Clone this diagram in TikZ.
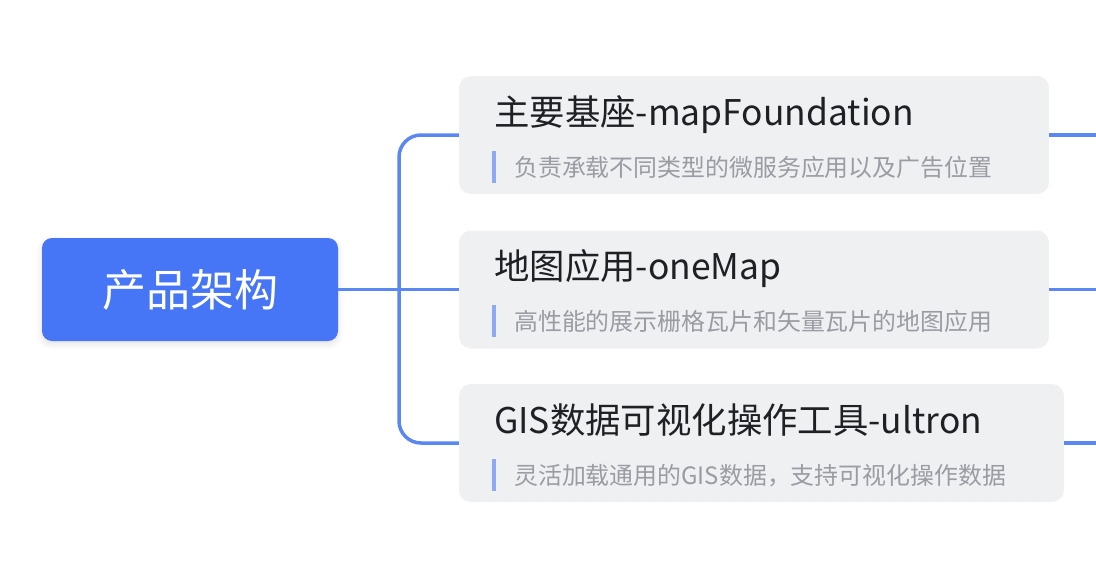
\documentclass[tikz,border=0pt]{standalone}
\usepackage{fontspec}
\setmainfont{Noto Sans CJK SC}
\usetikzlibrary{calc,shadows.blur}

\definecolor{rootblue}{HTML}{4676F6}
\definecolor{linkblue}{HTML}{5B87F2}
\definecolor{barblue}{HTML}{8EA8F3}
\definecolor{boxgray}{HTML}{EFF0F2}
\definecolor{titleink}{HTML}{1F2023}
\definecolor{noteink}{HTML}{9A9CA3}

\begin{document}
\begin{tikzpicture}[x=1pt,y=-1pt]

\useasboundingbox (0,0) rectangle (1096,574);

% Root
\tikzstyle{root}=[rounded corners=10pt,fill=rootblue,text=white,inner sep=0pt,
  minimum width=296pt,minimum height=103pt,font=\fontsize{44}{50}\selectfont,
  blur shadow={shadow xshift=0pt,shadow yshift=-3pt,shadow blur radius=6pt,shadow opacity=12}]

% Topic
\tikzstyle{topic}=[rounded corners=12pt,fill=boxgray,inner sep=0pt,minimum height=118pt]
\tikzstyle{title}=[anchor=base west,inner sep=0pt,text=titleink,font=\fontsize{35.4}{40}\selectfont]
\tikzstyle{note}=[anchor=base west,inner sep=0pt,text=noteink,font=\fontsize{23.9}{28}\selectfont]
\tikzstyle{notebar}=[line width=3.5pt,barblue]

% Links
\tikzstyle{link}=[line width=3.5pt,linkblue]

%%%%%%%%%%%%%%%%%%%%%%%%%%%%%%%%%%%%%%%%%%%%%%%%%%%%%%%%%%%%%%%%%%
%
%       Layout
%
\node (root) [root] at (190,289.5) {产品架构};

\node (map)   [topic, minimum width=590pt] at (754,135)   {};
\node (one)   [topic, minimum width=590pt] at (754,289.5) {};
\node (gis)   [topic, minimum width=605pt] at (761.5,443) {};

%%%%%%%%%%%%%%%%%%%%%%%%%%%%%%%%%%%%%%%%%%%%%%%%%%%%%%%%%%%%%%%%%%
%
%       Texts
%
\node (mapT) [title] at (494,125) {主要基座-mapFoundation};
\node (mapN) [note]  at (514,176) {负责承载不同类型的微服务应用以及广告位置};
\node (oneT) [title] at (494,279) {地图应用-oneMap};
\node (oneN) [note]  at (514,330) {高性能的展示栅格瓦片和矢量瓦片的地图应用};
\node (gisT) [title] at (494,433) {GIS数据可视化操作工具-ultron};
\node (gisN) [note]  at (514,484) {灵活加载通用的GIS数据，支持可视化操作数据};

\draw [notebar] (494,151) -- (494,183);
\draw [notebar] (494,305) -- (494,337);
\draw [notebar] (494,459) -- (494,491);

%%%%%%%%%%%%%%%%%%%%%%%%%%%%%%%%%%%%%%%%%%%%%%%%%%%%%%%%%%%%%%%%%%
%
%       Connections
%
\coordinate (fork) at (399,289.5);
\coordinate (mapR) at (1096,135);
\coordinate (oneR) at (1096,289.5);
\coordinate (gisR) at (1096,443);

\draw [link] (root.east) -- (one.west);
\draw [link, rounded corners=22pt] (fork) |- (map.west);
\draw [link, rounded corners=22pt] (fork) |- (gis.west);

\draw [link] (map.east) -- (mapR);
\draw [link] (one.east) -- (oneR);
\draw [link] (gis.east) -- (gisR);

\end{tikzpicture}
\end{document}
